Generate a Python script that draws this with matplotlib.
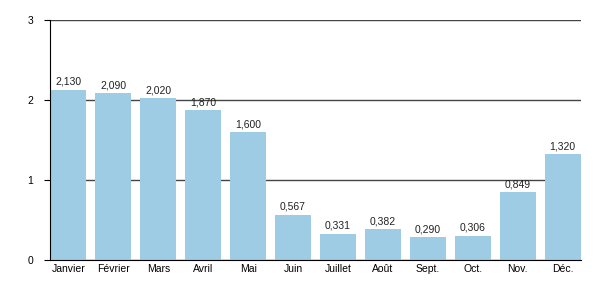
import matplotlib
matplotlib.use("Agg")
import matplotlib.pyplot as plt

months = ["Janvier", "Février", "Mars", "Avril", "Mai", "Juin",
          "Juillet", "Août", "Sept.", "Oct.", "Nov.", "Déc."]
values = [2.130, 2.090, 2.020, 1.870, 1.600, 0.567,
          0.331, 0.382, 0.290, 0.306, 0.849, 1.320]
value_labels = ["2,130", "2,090", "2,020", "1,870", "1,600", "0,567",
                "0,331", "0,382", "0,290", "0,306", "0,849", "1,320"]

plt.rcParams["font.family"] = ["Liberation Sans", "DejaVu Sans"]

fig = plt.figure(figsize=(6, 3), dpi=100)
ax = fig.add_axes([50 / 600, 40 / 300, 531 / 600, 240 / 300])

x = range(len(months))
bars = ax.bar(x, values, width=0.8, color="#9dcce4", zorder=2)
for b, lab in zip(bars, value_labels):
    ax.annotate(lab, (b.get_x() + b.get_width() / 2, b.get_height()),
                xytext=(0, 2), textcoords="offset points",
                ha="center", va="bottom", fontsize=7.5, color="#222222")

ax.set_xlim(-0.41, 11.41)
ax.set_ylim(0, 3)
ax.set_yticks([0, 1, 2, 3])
ax.set_xticks(list(x))
ax.set_xticklabels(months)
ax.yaxis.grid(True, color="#444444", linewidth=1)
ax.set_axisbelow(True)
for s in ["top", "right"]:
    ax.spines[s].set_visible(False)
ax.spines["left"].set_color("black")
ax.spines["bottom"].set_color("black")
ax.tick_params(axis="x", length=0, labelsize=7.5, pad=3)
ax.tick_params(axis="y", length=4, labelsize=7.5, pad=8)

fig.savefig("out.png", dpi=100)
